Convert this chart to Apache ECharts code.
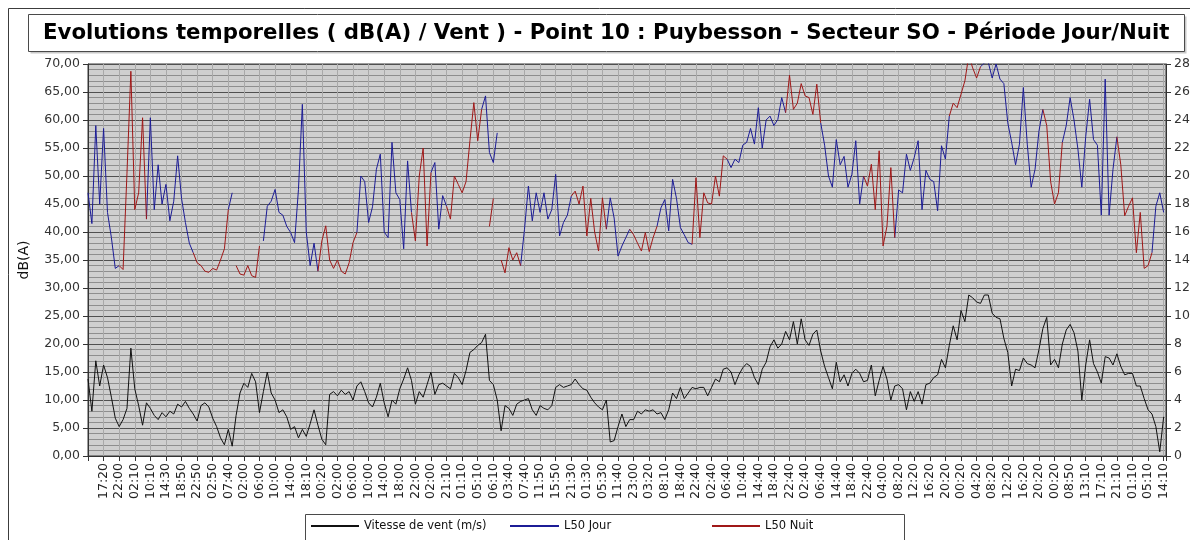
<!DOCTYPE html>
<html>
<head>
<meta charset="utf-8">
<title>Evolutions temporelles - Point 10 : Puybesson</title>
<script src="https://cdn.jsdelivr.net/npm/echarts@6.0.0/dist/echarts.min.js"></script>
<style>
  html, body { margin: 0; padding: 0; background: #fff; }
  #chart { width: 1190px; height: 540px; }
</style>
</head>
<body>
<div id="chart"></div>
<script>
const _ = null;

// libellés de l'axe des temps (une graduation = 4 points de mesure ici)
const tickLabels = [
  "17:20", "22:00", "02:10", "10:10", "14:30", "18:50", "22:50", "02:50", "07:40", "02:00",
  "06:00", "10:00", "14:00", "18:10", "00:20", "02:00", "06:00", "10:00", "14:00", "18:00",
  "22:00", "02:00", "21:10", "01:10", "05:10", "06:10", "03:40", "07:40", "11:50", "15:50",
  "21:30", "01:30", "05:30", "11:40", "23:00", "03:20", "08:10", "18:40", "22:40", "02:40",
  "06:40", "10:40", "14:40", "18:40", "22:40", "02:40", "06:40", "14:40", "18:40", "22:40",
  "04:00", "08:20", "12:20", "16:20", "20:20", "00:20", "04:20", "08:20", "12:20", "16:20",
  "20:20", "00:20", "08:50", "13:10", "17:10", "21:10", "01:10", "05:10", "14:10",
];

// vitesse de vent (m/s) - axe de droite
const vent = [
  5.5, 3.2, 6.8, 5.0, 6.5, 5.6, 4.2, 2.7, 2.1, 2.6,
  3.4, 7.7, 4.8, 3.6, 2.2, 3.8, 3.4, 2.9, 2.6, 3.1,
  2.8, 3.2, 3.0, 3.7, 3.5, 3.9, 3.4, 3.0, 2.5, 3.6,
  3.8, 3.5, 2.7, 2.1, 1.3, 0.8, 1.9, 0.7, 2.9, 4.5,
  5.2, 4.9, 5.9, 5.3, 3.1, 4.6, 6.0, 4.5, 4.0, 3.1,
  3.3, 2.8, 1.9, 2.1, 1.3, 1.9, 1.4, 2.3, 3.3, 2.2,
  1.2, 0.8, 4.4, 4.6, 4.3, 4.7, 4.4, 4.6, 4.0, 5.0,
  5.3, 4.6, 3.8, 3.5, 4.2, 5.2, 3.8, 2.8, 4.0, 3.7,
  4.8, 5.5, 6.3, 5.4, 3.7, 4.6, 4.2, 5.1, 6.0, 4.4,
  5.1, 5.2, 5.0, 4.8, 5.9, 5.6, 5.1, 6.1, 7.4, 7.6,
  7.9, 8.1, 8.7, 5.4, 5.1, 4.0, 1.8, 3.6, 3.4, 2.9,
  3.7, 3.9, 4.0, 4.1, 3.3, 2.9, 3.6, 3.4, 3.3, 3.6,
  4.9, 5.1, 4.9, 5.0, 5.1, 5.5, 5.1, 4.8, 4.7, 4.2,
  3.8, 3.5, 3.3, 4.0, 1.0, 1.1, 2.1, 3.0, 2.1, 2.6,
  2.6, 3.2, 3.0, 3.3, 3.2, 3.3, 3.0, 3.1, 2.6, 3.3,
  4.5, 4.1, 4.9, 4.1, 4.5, 4.9, 4.8, 4.9, 4.9, 4.3,
  4.9, 5.5, 5.3, 6.2, 6.3, 6.0, 5.1, 5.8, 6.3, 6.6,
  6.4, 5.6, 5.1, 6.2, 6.7, 7.8, 8.3, 7.7, 8.0, 8.9,
  8.3, 9.6, 8.0, 9.8, 8.3, 7.9, 8.7, 9.0, 7.5, 6.4,
  5.6, 4.8, 6.7, 5.3, 5.8, 5.0, 5.9, 6.2, 5.9, 5.3,
  5.4, 6.5, 4.3, 5.4, 6.4, 5.5, 4.0, 5.0, 5.1, 4.8,
  3.3, 4.6, 3.9, 4.6, 3.7, 5.1, 5.2, 5.6, 5.8, 6.9,
  6.3, 7.9, 9.3, 8.3, 10.4, 9.6, 11.5, 11.3, 11.0, 10.9,
  11.5, 11.5, 10.2, 9.9, 9.8, 8.4, 7.4, 5.0, 6.2, 6.1,
  7.0, 6.6, 6.5, 6.3, 7.6, 9.1, 9.9, 6.5, 6.9, 6.3,
  8.0, 9.0, 9.4, 8.8, 7.5, 4.0, 6.5, 8.3, 6.6, 6.0,
  5.2, 7.1, 7.0, 6.5, 7.3, 6.4, 5.8, 5.9, 5.9, 5.0,
  5.0, 4.1, 3.3, 3.0, 2.1, 0.3, 2.8,
];

// L50 période jour, dB(A)
const l50Jour = [
  47, 41.5, 59, 45, 58.5, 43.5, 39, 33.5, 34, _,
  _, _, _, _, _, 42.3, 60.4, 44, 52, 45,
  48.5, 42, 45.5, 53.6, 46, 41.7, 38, 36.3, _, _,
  _, _, _, _, _, _, 44, 47, _, _,
  _, _, _, _, _, 38.4, 44.6, 45.5, 47.6, 43.5,
  43, 41, 39.9, 38.1, 47.6, 62.8, 40, 34, 38, 33,
  _, _, _, _, _, _, _, _, _, 39.9,
  50, 49, 41.7, 44.5, 51.2, 53.9, 40, 39, 56, 47,
  45.8, 37, 52.7, 43.5, _, _, _, _, 50.6, 52.4,
  40.5, 46.5, 44.6, _, _, _, _, _, _, _,
  _, 61.9, 64.3, 54.2, 52.4, 57.7, _, _, _, _,
  _, 34, 40.5, 48.2, 42, 47, 43.5, 47, 42.3, 44,
  50.3, 39.3, 41.7, 43, 46.4, _, _, _, _, _,
  _, _, _, 40.5, 46.1, 42.5, 35.7, 37.5, 39, 40.5,
  _, _, _, _, _, _, 41, 44.3, 45.8, 40.2,
  49.4, 46, 40.8, 39.5, 38.1, 37.8, _, _, _, _,
  _, _, _, _, 53, 51.5, 53, 52.4, 55.5, 56,
  58.5, 55.7, 62.2, 55, 60, 60.7, 59, 60.1, 64, 61.3,
  _, _, _, _, _, _, _, _, 59.5, 55.5,
  50, 48, 56.5, 52, 53.5, 48, 50.3, 56.3, 45, 50,
  _, _, _, _, _, _, _, 39, 47.5, 47,
  53.9, 51, 53.3, 56.3, 44, 51, 49.4, 49, 43.8, 55.4,
  53, 60.7, _, _, _, _, _, _, _, 69.5,
  70.2, 70.3, 67.5, 70, 67.3, 66.5, 59.5, 56, 52, 55.7,
  65.8, 55.7, 48, 51.2, 58, 61.9, _, _, _, _,
  56, 59, 64, 60, 54.8, 48, 57, 63.7, 56.5, 55.5,
  43, 67.3, 43, 51.2, 57, _, _, _, _, _,
  _, _, _, 36.3, 44.6, 47, 43.5,
];

// L50 période nuit, dB(A)
const l50Nuit = [
  _, _, _, _, _, _, _, _, 34, 33.3,
  50.5, 68.7, 44, 47, 60.4, 42.3, _, _, _, _,
  _, _, _, _, _, _, _, 36.3, 34.5, 34,
  33, 32.8, 33.5, 33.2, 35, 37, 44, _, 34, 32.5,
  32.3, 34, 32.2, 31.9, 37.5, _, _, _, _, _,
  _, _, _, _, _, _, _, _, _, 33,
  38.4, 41.1, 35, 33.5, 35, 33, 32.5, 34.5, 38.1, 39.9,
  _, _, _, _, _, _, _, _, _, _,
  _, _, _, 43.5, 38.4, 50, 55, 37.5, 50.6, _,
  _, _, 44.6, 42.3, 50, 48.5, 47, 49, 56.3, 63.1,
  56.3, 61.9, _, 41, 46, _, 35, 32.7, 37.2, 35,
  36.3, 34, _, _, _, _, _, _, _, _,
  _, _, _, _, 46.4, 47.3, 45, 48.2, 39.3, 46,
  40, 36.6, 46.1, 40.5, _, _, _, _, _, 40.5,
  39.5, 38, 36.6, 39.9, 36.5, 39, 41, _, _, _,
  _, _, _, _, _, 37.8, 49.7, 39, 47, 45.2,
  45, 50, 46.4, 53.6, 53, _, _, _, _, _,
  _, _, _, _, _, _, _, _, _, 61.3,
  68, 61.9, 63, 66.5, 64.3, 64, 61, 66.4, 59.5, _,
  _, _, _, _, _, _, _, _, _, 50,
  48.2, 52.1, 44, 54.5, 37.5, 41, 51.5, 39, _, _,
  _, _, _, _, _, _, _, _, _, _,
  _, 60.7, 63, 62.2, 64.6, 67, 71.5, 69.3, 67.5, 69.5,
  _, _, _, _, _, _, _, _, _, _,
  _, _, _, _, _, 61.9, 59, 49, 45, 47,
  56, _, _, _, _, _, _, _, _, _,
  _, _, _, _, 57, 52, 42.9, 44.6, 46.1, 36.3,
  43.5, 33.5, 34, 36.3, _, _, _,
];

const PAS = 4; // points par graduation
const X_MAX = 69.15;
const FONT = "DejaVu Sans";

function enPoints(valeurs) {
  return valeurs.map((v, i) => [i / PAS, v]);
}

const chart = echarts.init(document.getElementById("chart"));

// légende : un trait simple, sans symbole
const legendeCommune = {
  top: 520,
  padding: 0,
  itemHeight: 2,
  icon: "rect",
  selectedMode: false,
  textStyle: { fontFamily: FONT, fontSize: 11.5, color: "#111" },
};

const option = {
  animation: false,
  backgroundColor: "#fff",
  textStyle: { fontFamily: FONT },
  graphic: [
    {
      type: "rect",
      silent: true,
      shape: { x: 8.5, y: 8.5, width: 1200, height: 600 },
      style: { fill: "none", stroke: "#3c3c3c", lineWidth: 1 },
    },
    {
      type: "rect",
      silent: true,
      shape: { x: 30.5, y: 16.5, width: 1156, height: 37 },
      style: { fill: "#c8c8c8", stroke: "none" },
    },
    {
      type: "rect",
      silent: true,
      shape: { x: 28.5, y: 14.5, width: 1156, height: 37 },
      style: { fill: "#fff", stroke: "#4a4a4a", lineWidth: 1 },
    },
    {
      type: "text",
      silent: true,
      style: {
        x: 43,
        y: 33,
        text: "Evolutions temporelles ( dB(A) / Vent ) - Point 10 : Puybesson - Secteur SO - Période Jour/Nuit",
        font: 'bold 21.3px "DejaVu Sans"',
        fill: "#000",
        verticalAlign: "middle",
      },
    },
    {
      type: "rect",
      silent: true,
      shape: { x: 305.5, y: 514.5, width: 599, height: 40 },
      style: { fill: "none", stroke: "#4a4a4a", lineWidth: 1 },
    },
  ],
  legend: [
    Object.assign({ data: ["Vitesse de vent (m/s)"], left: 311, itemWidth: 48 }, legendeCommune),
    Object.assign({ data: ["L50 Jour"], left: 510, itemWidth: 49 }, legendeCommune),
    Object.assign({ data: ["L50 Nuit"], left: 712, itemWidth: 48 }, legendeCommune),
  ],
  grid: {
    left: 88,
    right: 24,
    top: 64,
    bottom: 84,
    show: true,
    backgroundColor: "#cfcfcf",
    borderColor: "#3a3a3a",
    borderWidth: 1,
    outerBoundsMode: "none",
  },
  xAxis: {
    type: "value",
    min: 0,
    max: X_MAX,
    interval: 1,
    axisLine: { lineStyle: { color: "#333" } },
    axisTick: { length: 5, lineStyle: { color: "#333" } },
    axisLabel: {
      rotate: 90,
      fontSize: 12.5,
      color: "#222",
      margin: 7,
      showMinLabel: true,
      showMaxLabel: true,
      formatter: function (v) {
        const k = Math.round(v);
        if (Math.abs(v - k) > 1e-6 || k < 1) return "";
        return tickLabels[k - 1] || "";
      },
    },
    splitLine: { show: true, lineStyle: { color: "#a9a9a9", width: 1 } },
  },
  yAxis: [
    {
      type: "value",
      min: 0,
      max: 70,
      interval: 5,
      name: "dB(A)",
      nameLocation: "middle",
      nameGap: 57,
      nameTextStyle: { fontSize: 14, color: "#111" },
      axisLine: { show: true, lineStyle: { color: "#333" } },
      axisTick: { show: true, length: 5, lineStyle: { color: "#333" } },
      axisLabel: {
        fontSize: 12.5,
        color: "#333",
        formatter: (v) => v.toFixed(2).replace(".", ","),
      },
      splitLine: { lineStyle: { color: "#505050", width: 1 } },
      minorTick: { show: false, splitNumber: 5 },
      minorSplitLine: { show: true, lineStyle: { color: "#8e8e8e", width: 1 } },
    },
    {
      type: "value",
      min: 0,
      max: 28,
      interval: 2,
      position: "right",
      axisLine: { show: true, lineStyle: { color: "#333" } },
      axisTick: { show: true, length: 5, lineStyle: { color: "#333" } },
      axisLabel: { fontSize: 12.5, color: "#333" },
      splitLine: { show: false },
    },
  ],
  series: [
    {
      name: "Vitesse de vent (m/s)",
      type: "line",
      yAxisIndex: 1,
      symbol: "none",
      data: enPoints(vent),
      lineStyle: { color: "#111", width: 1 },
      itemStyle: { color: "#111" },
    },
    {
      name: "L50 Jour",
      type: "line",
      yAxisIndex: 0,
      symbol: "none",
      data: enPoints(l50Jour),
      lineStyle: { color: "#1c1c96", width: 1 },
      itemStyle: { color: "#1c1c96" },
    },
    {
      name: "L50 Nuit",
      type: "line",
      yAxisIndex: 0,
      symbol: "none",
      data: enPoints(l50Nuit),
      lineStyle: { color: "#a01818", width: 1 },
      itemStyle: { color: "#a01818" },
    },
  ],
};

chart.setOption(option);
</script>
</body>
</html>
